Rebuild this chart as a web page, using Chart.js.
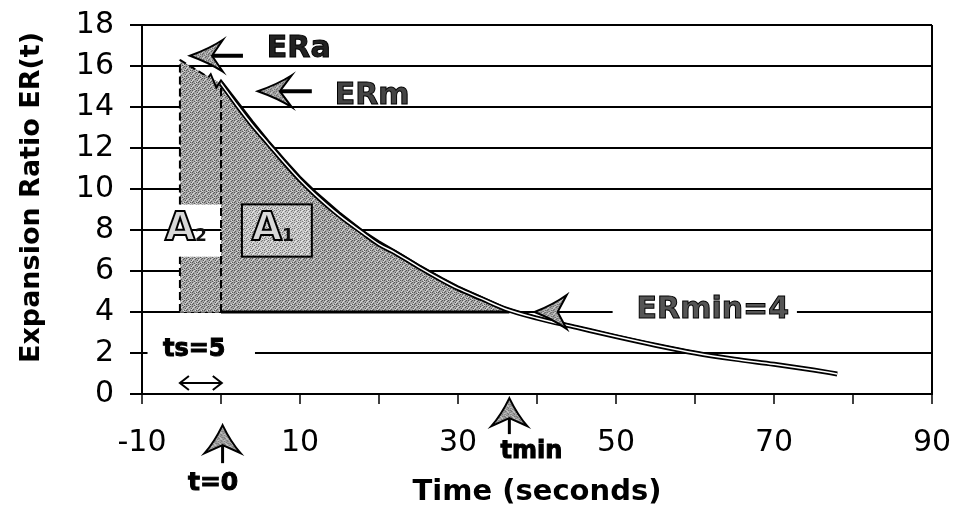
<!DOCTYPE html>
<html>
<head>
<meta charset="utf-8">
<script src="https://cdn.jsdelivr.net/npm/chart.js@4.4.1/dist/chart.umd.min.js"></script>
<style>
  body { margin: 0; background: #fff; }
  #wrap { width: 954px; height: 510px; }
</style>
</head>
<body>
<div id="wrap"><canvas id="erChart"></canvas></div>
<script>
// ER(t) curves
const timeM = [0, 2, 4, 6, 8, 10, 12, 15, 18, 20, 22, 25, 28, 30, 33, 36, 40, 45, 50, 55, 60, 65, 70, 75, 78];
const erM   = [15.15, 14.1, 13.1, 12.2, 11.3, 10.45, 9.7, 8.7, 7.85, 7.3, 6.9, 6.2, 5.55, 5.15, 4.65, 4.15, 3.7, 3.25, 2.8, 2.38, 2.0, 1.7, 1.45, 1.17, 0.98];
const timeA = [-5.2, -1.6, -1.3, -0.6, 0, 2, 4, 6, 8, 10, 12, 15, 18, 20, 22, 25, 28, 30, 33, 36, 40, 45, 50, 55, 60, 65, 70, 75, 78];
const erA   = [16.3, 15.45, 15.6, 14.95, 15.3, 14.3, 13.3, 12.35, 11.45, 10.6, 9.85, 8.85, 7.95, 7.45, 7.0, 6.3, 5.65, 5.25, 4.72, 4.2, 3.75, 3.3, 2.85, 2.43, 2.05, 1.72, 1.47, 1.19, 1.0];

const tStart = -5.2;   // start of the A2 strip (ts = 5)
const tMin = 36.5;
const erMin = 4;

const xTickLabels = [-10, 10, 30, 50, 70, 90];
const yTickStep = 2;

function pts(xs, ys) {
    return xs.map((x, i) => ({ x: x, y: ys[i] }));
}

// gray stipple like the scanned shading
function stipple(base, dark, light) {
    const c = document.createElement('canvas');
    c.width = 6; c.height = 6;
    const g = c.getContext('2d');
    g.fillStyle = base; g.fillRect(0, 0, 6, 6);
    g.fillStyle = dark;
    [[0,0],[3,1],[1,3],[4,4],[2,5],[5,2],[4,0],[0,4]].forEach(p => g.fillRect(p[0], p[1], 1, 1));
    g.fillStyle = light;
    [[2,0],[5,3],[1,1],[3,4],[0,2],[4,5]].forEach(p => g.fillRect(p[0], p[1], 1, 1));
    return g.createPattern(c, 'repeat');
}
const shade = stipple('#a4a4a4', '#585858', '#dadada');
const shadeLight = stipple('#c4c4c4', '#7a7a7a', '#ececec');

const ermPoints = pts(timeM, erM);
const a1Points = ermPoints.filter(p => p.x <= tMin).concat([{ x: tMin, y: erMin }]);
const erAtZero = erM[0];
const erAtStart = erA[0];

const gapLow = 6.7, gapHigh = 9.25;   // white gap that holds the A2 label

const datasets = [
    { data: ermPoints, borderColor: '#fff', borderWidth: 1.5, order: 0, cubicInterpolationMode: 'monotone' },
    { data: ermPoints, borderColor: '#000', borderWidth: 5, order: 1, cubicInterpolationMode: 'monotone' },
    { data: pts(timeA, erA), borderColor: '#000', borderWidth: 2, order: 2,
      segment: { borderDash: c => c.p0.parsed.x < -1.7 ? [7, 4] : undefined } },
    { data: [{ x: 0, y: erMin }, { x: tMin, y: erMin }], borderColor: '#000', borderWidth: 3, order: 3 },
    { data: [{ x: tStart, y: erMin }, { x: 0, y: erMin }], borderColor: '#888', borderWidth: 1.5, borderDash: [4, 3], order: 3 },
    { data: [{ x: 0, y: erMin }, { x: 0, y: erAtZero }], borderColor: '#000', borderWidth: 2, borderDash: [8, 4], order: 4 },
    { data: [{ x: tStart, y: erMin }, { x: tStart, y: gapLow }], borderColor: '#000', borderWidth: 2, borderDash: [8, 4], order: 4 },
    { data: [{ x: tStart, y: gapHigh }, { x: tStart, y: erAtStart }], borderColor: '#000', borderWidth: 2, borderDash: [8, 4], order: 4 },
    { data: a1Points, borderWidth: 0, backgroundColor: shade, fill: { value: erMin }, order: 5, cubicInterpolationMode: 'monotone' },
    { data: [{ x: tStart, y: erAtStart }, { x: 0, y: erAtZero }], borderWidth: 0, backgroundColor: shade, fill: { value: gapHigh }, order: 6 },
    { data: [{ x: tStart, y: gapLow }, { x: 0, y: gapLow }], borderWidth: 0, backgroundColor: shade, fill: { value: erMin }, order: 6 }
];

function outlinedText(ctx, text, px, py, size, align, fill) {
    ctx.font = 'bold ' + size + 'px "DejaVu Sans"';
    ctx.textAlign = align;
    ctx.textBaseline = 'middle';
    ctx.fillStyle = fill;
    ctx.fillText(text, px, py);
    ctx.lineWidth = 1;
    ctx.strokeStyle = '#000';
    ctx.strokeText(text, px, py);
}

// barbed arrow, drawn pointing left then rotated
function barbArrow(ctx, px, py, angle, len, half, notch, shaft, shaftW) {
    ctx.save();
    ctx.translate(px, py);
    ctx.rotate(angle);
    ctx.strokeStyle = '#000';
    ctx.lineWidth = shaftW;
    ctx.beginPath();
    ctx.moveTo(notch, 0);
    ctx.lineTo(shaft, 0);
    ctx.stroke();
    ctx.beginPath();
    ctx.moveTo(0, 0);
    ctx.quadraticCurveTo(len * 0.6, -half * 0.45, len, -half);
    ctx.lineTo(notch, 0);
    ctx.lineTo(len, half);
    ctx.quadraticCurveTo(len * 0.6, half * 0.45, 0, 0);
    ctx.closePath();
    ctx.fillStyle = shade;
    ctx.fill();
    ctx.lineWidth = 2;
    ctx.stroke();
    ctx.restore();
}

const marks = {
    id: 'marks',
    beforeDatasetsDraw(chart) {
        const { ctx, scales: { x, y } } = chart;
        ctx.save();
        ctx.fillStyle = '#fff';
        // cut the gridlines behind "ts=5" and "ERmin=4"
        ctx.fillRect(x.getPixelForValue(-9.3), y.getPixelForValue(2.6), x.getPixelForValue(4.3) - x.getPixelForValue(-9.3), 24);
        ctx.fillRect(x.getPixelForValue(40.2), y.getPixelForValue(4.5), x.getPixelForValue(72.9) - x.getPixelForValue(40.2), 18);
        ctx.restore();
    },
    afterDatasetsDraw(chart) {
        const { ctx, scales: { x, y } } = chart;
        ctx.save();

        // A1 label box
        const bx0 = x.getPixelForValue(2.65), bx1 = x.getPixelForValue(11.5);
        const by0 = y.getPixelForValue(gapHigh), by1 = y.getPixelForValue(gapLow);
        ctx.fillStyle = shadeLight;
        ctx.fillRect(bx0, by0, bx1 - bx0, by1 - by0);
        ctx.lineWidth = 2;
        ctx.strokeStyle = '#000';
        ctx.strokeRect(bx0, by0, bx1 - bx0, by1 - by0);

        // A1 / A2 letters
        ctx.textAlign = 'left';
        ctx.textBaseline = 'middle';
        [[3.9, 'A', '1'], [-7.1, 'A', '2']].forEach(a => {
            const px = x.getPixelForValue(a[0]), py = y.getPixelForValue(8.0);
            ctx.font = 'bold 39px "DejaVu Sans"';
            ctx.fillStyle = '#d8d8d8';
            ctx.fillText(a[1], px, py);
            ctx.lineWidth = 2;
            ctx.strokeStyle = '#000';
            ctx.strokeText(a[1], px, py);
            const w = ctx.measureText(a[1]).width;
            ctx.font = 'bold 17px "DejaVu Sans"';
            ctx.fillStyle = '#111';
            ctx.fillText(a[2], px + w, py + 7);
        });

        // arrows and labels
        barbArrow(ctx, x.getPixelForValue(-3.93), y.getPixelForValue(16.5), 0, 33, 16, 22, 53, 4);
        outlinedText(ctx, 'ERa', x.getPixelForValue(5.8), y.getPixelForValue(16.83), 30, 'left', '#222');
        barbArrow(ctx, x.getPixelForValue(4.66), y.getPixelForValue(14.77), 0, 34, 16, 22, 54, 4);
        outlinedText(ctx, 'ERm', x.getPixelForValue(14.4), y.getPixelForValue(14.53), 30, 'left', '#444');
        barbArrow(ctx, x.getPixelForValue(39.7), y.getPixelForValue(erMin), 0, 32, 17, 23, 78, 2);
        outlinedText(ctx, 'ERmin=' + erMin, x.getPixelForValue(52.6), y.getPixelForValue(4.1), 30, 'left', '#555');

        outlinedText(ctx, 'ts=5', x.getPixelForValue(-7.35), y.getPixelForValue(2.15), 24, 'left', '#000');

        // double arrow for ts
        const ax0 = x.getPixelForValue(-5.2), ax1 = x.getPixelForValue(0.1), ay = y.getPixelForValue(0.54);
        ctx.lineWidth = 2;
        ctx.strokeStyle = '#000';
        ctx.beginPath();
        ctx.moveTo(ax0, ay); ctx.lineTo(ax1, ay);
        ctx.moveTo(ax0 + 9, ay - 7); ctx.lineTo(ax0, ay); ctx.lineTo(ax0 + 9, ay + 7);
        ctx.moveTo(ax1 - 9, ay - 7); ctx.lineTo(ax1, ay); ctx.lineTo(ax1 - 9, ay + 7);
        ctx.stroke();

        // t=0 and tmin markers under the axis
        barbArrow(ctx, x.getPixelForValue(0.2), y.getPixelForValue(-1.52), Math.PI / 2, 28, 18, 20, 38, 3);
        outlinedText(ctx, 't=0', x.getPixelForValue(-1.0), y.getPixelForValue(-4.35), 25, 'center', '#000');
        barbArrow(ctx, x.getPixelForValue(tMin), y.getPixelForValue(-0.2), Math.PI / 2, 28, 18, 20, 36, 3);
        outlinedText(ctx, 'tmin', x.getPixelForValue(39.3), y.getPixelForValue(-2.84), 24, 'center', '#000');

        // y axis title
        ctx.save();
        ctx.translate(32, (y.top + y.bottom) / 2 - 12);
        ctx.rotate(-Math.PI / 2);
        ctx.font = 'bold 27px "DejaVu Sans"';
        ctx.textAlign = 'center';
        ctx.textBaseline = 'middle';
        ctx.fillStyle = '#000';
        ctx.fillText('Expansion Ratio ER(t)', 0, 0);
        ctx.restore();

        ctx.restore();
    }
};

new Chart(document.getElementById('erChart'), {
    type: 'line',
    data: { datasets: datasets.map(d => Object.assign({ pointRadius: 0, fill: false }, d)) },
    options: {
        responsive: true,
        maintainAspectRatio: false,
        animation: false,
        layout: { padding: { top: 25, right: 22, left: 0, bottom: 0 } },
        plugins: { legend: { display: false }, tooltip: { enabled: false } },
        scales: {
            x: {
                type: 'linear',
                min: -10,
                max: 90,
                ticks: {
                    stepSize: 10,
                    autoSkip: false,
                    maxRotation: 0,
                    padding: 21,
                    color: '#000',
                    font: { family: 'DejaVu Sans', size: 30 },
                    callback: v => xTickLabels.includes(v) ? String(v) : ''
                },
                grid: {
                    color: c => c.tick && c.tick.value === 90 ? '#000' : 'rgba(0,0,0,0)',
                    lineWidth: 2,
                    tickColor: '#000',
                    tickLength: 10,
                    tickWidth: 1.5
                },
                border: { color: '#000', width: 2 },
                title: {
                    display: true,
                    text: 'Time (seconds)',
                    color: '#000',
                    font: { family: 'DejaVu Sans', weight: 'bold', size: 29 },
                    padding: { top: 0, bottom: 0 }
                },
                afterFit: s => { s.height = 116; s.paddingLeft = 0; s.paddingRight = 0; }
            },
            y: {
                min: 0,
                max: 18,
                ticks: {
                    stepSize: yTickStep,
                    padding: 16,
                    color: '#000',
                    font: { family: 'DejaVu Sans', size: 30 }
                },
                grid: { color: '#000', lineWidth: 2, tickLength: 12 },
                border: { color: '#000', width: 2 },
                afterFit: s => { s.width = 142; s.paddingTop = 0; s.paddingBottom = 0; }
            }
        }
    },
    plugins: [marks]
});
</script>
</body>
</html>
